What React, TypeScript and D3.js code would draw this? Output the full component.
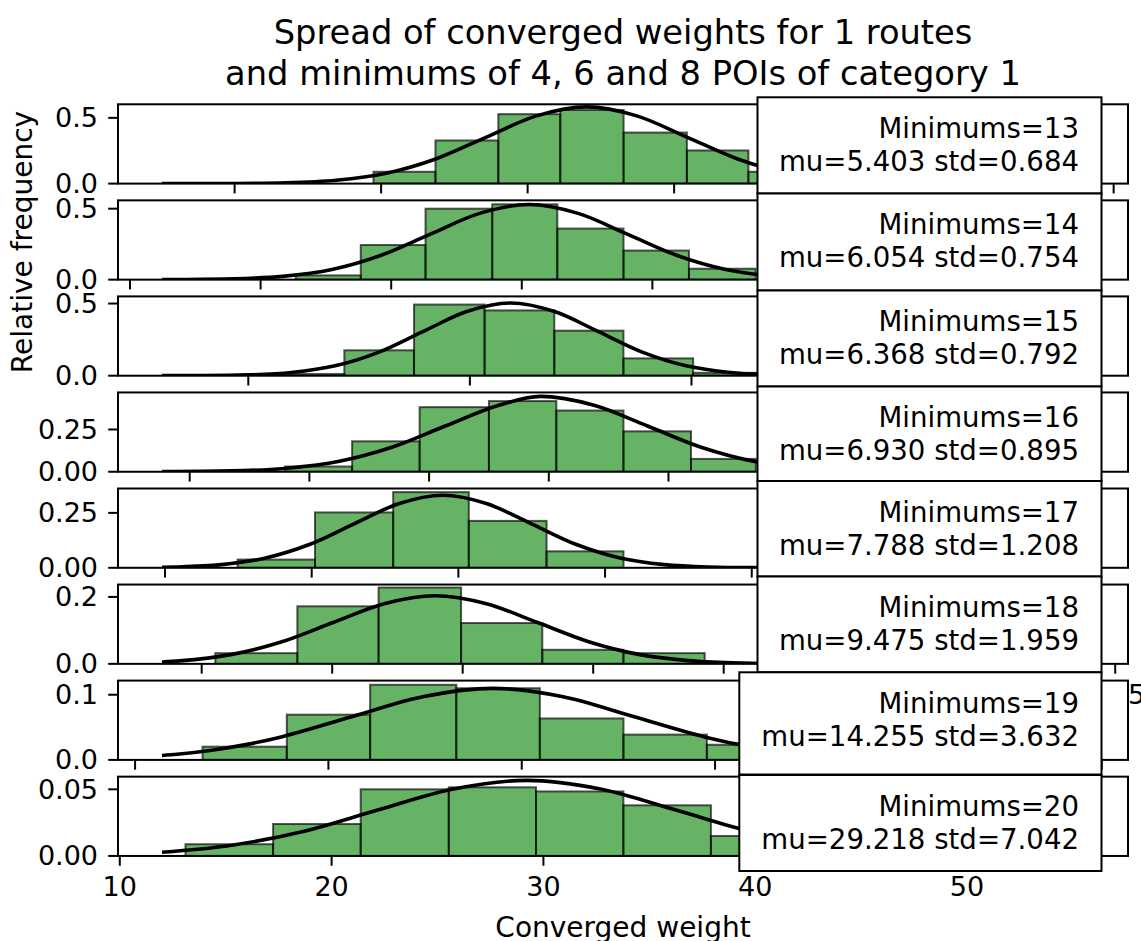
import React from "react";
import * as d3 from "d3";

const W = 1141;
const H = 941;

const TITLE_LINES = [
  "Spread of converged weights for 1 routes",
  "and minimums of 4, 6 and 8 POIs of category 1",
];
const X_LABEL = "Converged weight";
const Y_LABEL = "Relative frequency";

// legend values
const minimums = [13, 14, 15, 16, 17, 18, 19, 20];
const mus = [5.403, 6.054, 6.368, 6.93, 7.788, 9.475, 14.255, 29.218];
const stds = [0.684, 0.754, 0.792, 0.895, 1.208, 1.959, 3.632, 7.042];

// x-axis limits (data units) and ticks of each panel
const xDomains: [number, number][] = [
  [2.204, 9.098],
  [2.908, 10.642],
  [2.824, 11.94],
  [3.401, 11.839],
  [3.359, 17.13],
  [3.397, 22.745],
  [4.558, 30.68],
  [9.915, 57.6],
];
const xTicks = [
  [3, 4, 5, 6, 7, 8, 9],
  [3, 4, 5, 6, 7, 8, 9, 10],
  [4, 6, 8, 10],
  [4, 5, 6, 7, 8, 9, 10, 11],
  [4, 6, 8, 10, 12, 14, 16],
  [5, 7.5, 10, 12.5, 15, 17.5, 20, 22.5],
  [5, 10, 15, 20, 25, 30],
  [10, 20, 30, 40, 50],
];
const yMaxes = [0.603, 0.5587, 0.5495, 0.469, 0.361, 0.237, 0.1217, 0.0595];
const yTicks = [
  [0, 0.5],
  [0, 0.5],
  [0, 0.5],
  [0, 0.25],
  [0, 0.25],
  [0, 0.2],
  [0, 0.1],
  [0, 0.05],
];

// histogram bins (edges) and relative frequencies
const edges13 = [3.948, 4.371, 4.8, 5.223, 5.655, 6.087, 6.507, 6.934];
const freq13 = [0.09, 0.328, 0.528, 0.56, 0.388, 0.252, 0.09];
const edges14 = [4.269, 4.767, 5.263, 5.774, 6.272, 6.779, 7.28, 7.79];
const freq14 = [0.03, 0.244, 0.5, 0.531, 0.36, 0.205, 0.077];
const edges15 = [4.237, 4.867, 5.496, 6.133, 6.762, 7.386, 8.015, 8.644];
const freq15 = [0.012, 0.176, 0.493, 0.4525, 0.312, 0.12, 0.02];
const edges16 = [4.796, 5.357, 5.921, 6.5, 7.063, 7.624, 8.188, 8.73];
const freq16 = [0.031, 0.18, 0.382, 0.418, 0.362, 0.239, 0.076];
const edges17 = [4.99, 6.045, 7.111, 8.142, 9.202, 10.251];
const freq17 = [0.0374, 0.252, 0.3445, 0.2135, 0.075];
const edges18 = [5.262, 6.833, 8.389, 9.969, 11.525, 13.08, 14.636];
const freq18 = [0.032, 0.172, 0.228, 0.122, 0.042, 0.032];
const edges19 = [6.746, 8.924, 11.079, 13.308, 15.468, 17.631, 19.788, 21.96];
const freq19 = [0.0203, 0.0694, 0.1153, 0.11, 0.0636, 0.0388, 0.0232];
const edges20 = [13.102, 17.238, 21.374, 25.533, 29.65, 33.777, 37.908, 42.04];
const freq20 = [0.0088, 0.024, 0.05, 0.0515, 0.0484, 0.038, 0.015];

// fitted curves, points
const curve13: [number, number][] = [
  [2.504, 0.0001], [2.667, 0.0002], [3.009, 0.0013], [3.351, 0.0065], [3.693, 0.0256],
  [4.035, 0.0789], [4.377, 0.1894], [4.719, 0.3538], [5.061, 0.5148], [5.403, 0.5833],
  [5.745, 0.5148], [6.087, 0.3538], [6.429, 0.1894], [6.771, 0.0789], [7.113, 0.0256],
  [7.455, 0.0065],
];
const curve14: [number, number][] = [
  [3.245, 0.0005], [3.415, 0.0012], [3.792, 0.0059], [4.169, 0.0232], [4.546, 0.0716],
  [4.923, 0.1718], [5.3, 0.3208], [5.677, 0.4668], [6.054, 0.529], [6.431, 0.4668],
  [6.808, 0.3208], [7.185, 0.1718], [7.562, 0.0716], [7.939, 0.0232], [8.316, 0.0059],
];
const curve15: [number, number][] = [
  [3.221, 0.0002], [3.596, 0.0011], [3.992, 0.0056], [4.388, 0.0221], [4.784, 0.0682],
  [5.18, 0.1636], [5.576, 0.3055], [5.972, 0.4445], [6.368, 0.5037], [6.764, 0.4445],
  [7.16, 0.3055], [7.556, 0.1636], [7.952, 0.0682], [8.348, 0.0221], [8.744, 0.0056],
  [9.14, 0.0011],
];
const curve16: [number, number][] = [
  [3.769, 0.0009], [4.345, 0.005], [4.793, 0.0196], [5.24, 0.0603], [5.688, 0.1447],
  [6.135, 0.2703], [6.583, 0.3933], [6.93, 0.4457], [7.378, 0.3933], [7.825, 0.2703],
  [8.273, 0.1447], [8.72, 0.0603], [9.168, 0.0196], [9.615, 0.005],
];
const curve17: [number, number][] = [
  [3.959, 0.0022], [4.164, 0.0037], [4.768, 0.0145], [5.372, 0.0447], [5.976, 0.1072],
  [6.58, 0.2003], [7.184, 0.2915], [7.788, 0.3303], [8.392, 0.2915], [8.996, 0.2003],
  [9.6, 0.1072], [10.204, 0.0447], [10.808, 0.0145], [11.412, 0.0037], [12.016, 0.0007],
  [12.62, 0.0001],
];
const curve18: [number, number][] = [
  [4.239, 0.0057], [4.578, 0.009], [5.557, 0.0276], [6.537, 0.0661], [7.516, 0.1235],
  [8.496, 0.1797], [9.475, 0.2036], [10.455, 0.1797], [11.434, 0.1235], [12.414, 0.0661],
  [13.393, 0.0276], [14.373, 0.009], [15.352, 0.0023], [16.33, 0.0004],
];
const curve19: [number, number][] = [
  [5.696, 0.0068], [6.083, 0.0087], [6.991, 0.0149], [7.899, 0.0238], [8.807, 0.0357],
  [10.623, 0.0666], [12.439, 0.0969], [14.255, 0.1098], [16.071, 0.0969], [17.887, 0.0666],
  [19.703, 0.0357], [20.611, 0.0238], [21.519, 0.0149], [23.335, 0.0048],
];
const curve20: [number, number][] = [
  [11.99, 0.0028], [15.134, 0.0077], [18.655, 0.0184], [22.176, 0.0344], [25.697, 0.05],
  [29.218, 0.0567], [32.739, 0.05], [36.26, 0.0344], [39.781, 0.0184], [43.302, 0.0077],
  [46.823, 0.0025],
];

const allEdges = [edges13, edges14, edges15, edges16, edges17, edges18, edges19, edges20];
const allFreq = [freq13, freq14, freq15, freq16, freq17, freq18, freq19, freq20];
const allCurves = [curve13, curve14, curve15, curve16, curve17, curve18, curve19, curve20];

// layout
const FONT = "DejaVu Sans";
const AX_L = 118;
const AX_R = 1128;
const AX_TOP0 = 104.3;
const PITCH = 96.05;
const AX_H = 79.3;
const TICK_LEN = 9.8;
const TICK_FS = 27;
const LEG_FS = 27.6;
const LEG_R = 1101.5;
const LEG_TEXT_R = 1079;
const legLefts = [757.5, 757.5, 757.5, 757.5, 757.5, 757.5, 739.3, 739.3];
const legTops = [97.3, 193.5, 290.5, 386.5, 481, 576.5, 672.3, 775];
const legBottoms = [193.5, 290.5, 386.5, 481, 576.5, 672.3, 774.5, 871];

function decimals(vals: number[]) {
  let d = 0;
  vals.forEach((v) => {
    const s = String(v);
    const k = s.indexOf(".");
    if (k >= 0) d = Math.max(d, s.length - k - 1);
  });
  return d;
}

function Panel({ i, last }: { i: number; last: boolean }) {
  const top = AX_TOP0 + i * PITCH;
  const bottom = top + AX_H;
  const x = d3.scaleLinear().domain(xDomains[i]).range([AX_L, AX_R]);
  const y = d3.scaleLinear().domain([0, yMaxes[i]]).range([bottom, top]);
  const edges = allEdges[i];
  const freq = allFreq[i];
  const line = d3
    .line<[number, number]>()
    .x((d) => x(d[0]))
    .y((d) => y(d[1]))
    .curve(d3.curveMonotoneX);
  const xd = decimals(xTicks[i]);
  const yd = decimals(yTicks[i]);
  const fx = d3.format(`.${xd}f`);
  const fy = d3.format(`.${yd}f`);
  const clipId = `clip-${i}`;
  const legTop = legTops[i];
  // labels of upper panels lie under the next panel; only those reaching past its right edge show
  const showLabel = (t: number) =>
    last || x(t) + (fx(t).length * 0.6 * TICK_FS) / 2 > AX_R;
  return (
    <g>
      <defs>
        <clipPath id={clipId}>
          <rect x={AX_L} y={top} width={AX_R - AX_L} height={bottom - top} />
        </clipPath>
      </defs>
      <rect x={AX_L} y={top} width={AX_R - AX_L} height={bottom - top} fill="#fff" />
      <g clipPath={`url(#${clipId})`}>
        {freq.map((f, j) => {
          const x0 = x(edges[j]);
          const x1 = x(edges[j + 1]);
          return (
            <rect
              key={j}
              x={x0}
              y={y(f)}
              width={x1 - x0}
              height={bottom - y(f)}
              fill="#008000"
              fillOpacity={0.6}
              stroke="#000"
              strokeOpacity={0.65}
              strokeWidth={2}
            />
          );
        })}
        <path d={line(allCurves[i]) || ""} fill="none" stroke="#000" strokeWidth={3.6} />
      </g>
      <rect
        x={AX_L}
        y={top}
        width={AX_R - AX_L}
        height={bottom - top}
        fill="none"
        stroke="#000"
        strokeWidth={2}
      />
      {xTicks[i].map((t) => (
        <g key={`xt${t}`}>
          <line x1={x(t)} x2={x(t)} y1={bottom} y2={bottom + TICK_LEN} stroke="#000" strokeWidth={2} />
          {showLabel(t) && (
            <text x={x(t)} y={bottom + 40} textAnchor="middle" fontSize={TICK_FS} fontFamily={FONT} fill="#000">
              {fx(t)}
            </text>
          )}
        </g>
      ))}
      {yTicks[i].map((t) => (
        <g key={`yt${t}`}>
          <line x1={AX_L - TICK_LEN} x2={AX_L} y1={y(t)} y2={y(t)} stroke="#000" strokeWidth={2} />
          <text x={AX_L - 20} y={y(t) + 9.5} textAnchor="end" fontSize={TICK_FS} fontFamily={FONT} fill="#000">
            {fy(t)}
          </text>
        </g>
      ))}
      <rect
        x={legLefts[i]}
        y={legTop}
        width={LEG_R - legLefts[i]}
        height={legBottoms[i] - legTop}
        fill="#fff"
        stroke="#000"
        strokeWidth={2}
      />
      <text x={LEG_TEXT_R} y={legTop + 40.5} textAnchor="end" fontSize={LEG_FS} fontFamily={FONT} fill="#000">
        {`Minimums=${minimums[i]}`}
      </text>
      <text x={LEG_TEXT_R} y={legTop + 73.5} textAnchor="end" fontSize={LEG_FS} fontFamily={FONT} fill="#000">
        {`mu=${mus[i].toFixed(3)} std=${stds[i].toFixed(3)}`}
      </text>
    </g>
  );
}

export default function App() {
  const cx = (AX_L + AX_R) / 2;
  return (
    <svg
      width={W}
      height={H}
      style={{ position: "absolute", left: 0, top: 0, background: "#fff" }}
    >
      <rect width={W} height={H} fill="#fff" />
      {minimums.map((m, i) => (
        <Panel key={m} i={i} last={i === minimums.length - 1} />
      ))}
      <text x={cx} y={44} textAnchor="middle" fontSize={33.7} fontFamily={FONT} fill="#000">
        {TITLE_LINES[0]}
      </text>
      <text x={cx} y={85} textAnchor="middle" fontSize={33.7} fontFamily={FONT} fill="#000">
        {TITLE_LINES[1]}
      </text>
      <text x={cx} y={937} textAnchor="middle" fontSize={28} fontFamily={FONT} fill="#000">
        {X_LABEL}
      </text>
      <text
        transform={`translate(32,242) rotate(-90)`}
        textAnchor="middle"
        fontSize={28}
        fontFamily={FONT}
        fill="#000"
      >
        {Y_LABEL}
      </text>
    </svg>
  );
}
